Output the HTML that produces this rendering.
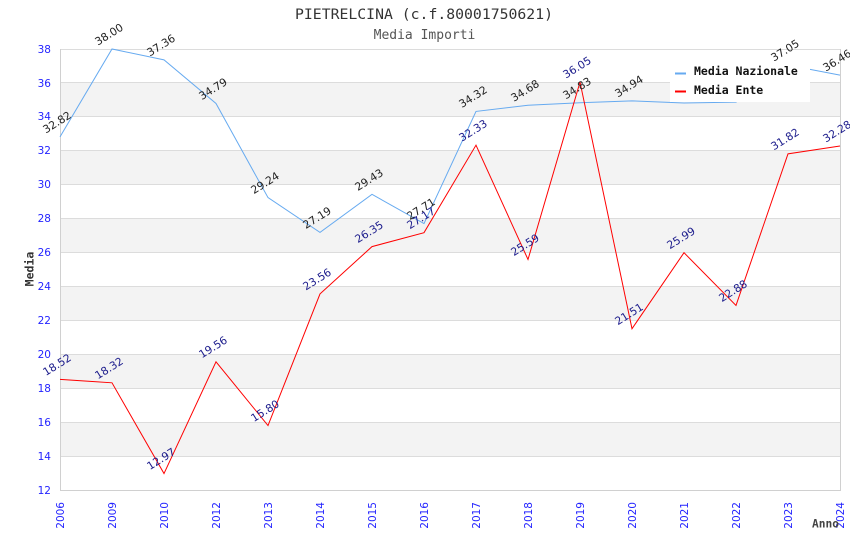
<!DOCTYPE html>
<html><head><meta charset="utf-8"><style>
html,body{margin:0;padding:0;background:#fff;}
svg{display:block;}
.tk{font-family:"DejaVu Sans","Liberation Sans",sans-serif;font-size:10.5px;fill:#2424ff;}
.dn{font-family:"DejaVu Sans","Liberation Sans",sans-serif;font-size:10.8px;fill:#222;}
.de{font-family:"DejaVu Sans","Liberation Sans",sans-serif;font-size:10.8px;fill:#1c1c8c;}
.mono{font-family:"DejaVu Sans Mono","Liberation Mono",monospace;}
</style></head><body>
<svg width="850" height="550" viewBox="0 0 850 550" xmlns="http://www.w3.org/2000/svg">
<rect width="850" height="550" fill="#fff"/>
<!-- bands -->
<g fill="#f3f3f3">
<rect x="61" y="422.15" width="779" height="33.93"/>
<rect x="61" y="354.31" width="779" height="33.92"/>
<rect x="61" y="286.46" width="779" height="33.92"/>
<rect x="61" y="218.62" width="779" height="33.92"/>
<rect x="61" y="150.77" width="779" height="33.92"/>
<rect x="61" y="82.92" width="779" height="33.93"/>
</g>
<!-- grid -->
<g stroke="#dcdcdc" stroke-width="1">
<line x1="61" x2="840" y1="456.5" y2="456.5"/>
<line x1="61" x2="840" y1="422.5" y2="422.5"/>
<line x1="61" x2="840" y1="388.5" y2="388.5"/>
<line x1="61" x2="840" y1="354.5" y2="354.5"/>
<line x1="61" x2="840" y1="320.5" y2="320.5"/>
<line x1="61" x2="840" y1="286.5" y2="286.5"/>
<line x1="61" x2="840" y1="252.5" y2="252.5"/>
<line x1="61" x2="840" y1="218.5" y2="218.5"/>
<line x1="61" x2="840" y1="184.5" y2="184.5"/>
<line x1="61" x2="840" y1="150.5" y2="150.5"/>
<line x1="61" x2="840" y1="116.5" y2="116.5"/>
<line x1="61" x2="840" y1="82.5" y2="82.5"/>
<line x1="61" x2="840" y1="49.5" y2="49.5"/>
</g>
<g stroke="#d0d0d0" stroke-width="1">
<line x1="60.5" x2="60.5" y1="49" y2="491"/>
<line x1="840.5" x2="840.5" y1="49" y2="491"/>
<line x1="60" x2="841" y1="490.5" y2="490.5"/>
</g>
<!-- y ticks -->
<g class="tk" text-anchor="end">
<text x="51" y="494">12</text>
<text x="51" y="460">14</text>
<text x="51" y="426">16</text>
<text x="51" y="392">18</text>
<text x="51" y="358">20</text>
<text x="51" y="324">22</text>
<text x="51" y="290">24</text>
<text x="51" y="256">26</text>
<text x="51" y="222">28</text>
<text x="51" y="188">30</text>
<text x="51" y="154">32</text>
<text x="51" y="120">34</text>
<text x="51" y="87">36</text>
<text x="51" y="53">38</text>
</g>
<!-- x ticks -->
<g class="tk" text-anchor="end">
<text transform="translate(64,502) rotate(-90)">2006</text>
<text transform="translate(116,502) rotate(-90)">2009</text>
<text transform="translate(168,502) rotate(-90)">2010</text>
<text transform="translate(220,502) rotate(-90)">2012</text>
<text transform="translate(272,502) rotate(-90)">2013</text>
<text transform="translate(324,502) rotate(-90)">2014</text>
<text transform="translate(376,502) rotate(-90)">2015</text>
<text transform="translate(428,502) rotate(-90)">2016</text>
<text transform="translate(480,502) rotate(-90)">2017</text>
<text transform="translate(532,502) rotate(-90)">2018</text>
<text transform="translate(584,502) rotate(-90)">2019</text>
<text transform="translate(636,502) rotate(-90)">2020</text>
<text transform="translate(688,502) rotate(-90)">2021</text>
<text transform="translate(740,502) rotate(-90)">2022</text>
<text transform="translate(792,502) rotate(-90)">2023</text>
<text transform="translate(844,502) rotate(-90)">2024</text>
</g>
<!-- titles -->
<text class="mono" x="424" y="19" text-anchor="middle" font-size="14" fill="#333" textLength="258" lengthAdjust="spacingAndGlyphs">PIETRELCINA (c.f.80001750621)</text>
<text class="mono" x="424.5" y="39" text-anchor="middle" font-size="13" fill="#555">Media Importi</text>
<text class="mono" transform="translate(33.5,269) rotate(-90)" text-anchor="middle" font-size="11.5" font-weight="bold" fill="#333">Media</text>
<text class="mono" x="812" y="527.5" font-size="11.2" font-weight="bold" fill="#444">Anno</text>
<!-- series -->
<polyline fill="none" stroke="#66aaf0" stroke-width="1" points="60,136.86 112,49 164,59.86 216,103.45 268,197.58 320,232.36 372,194.36 424,223.54 476,111.42 528,105.31 580,102.77 632,100.9 684,102.94 736,102.09 788,65.11 840,75.12"/>
<polyline fill="none" stroke="#ff0000" stroke-width="1" points="60,379.41 112,382.8 164,473.55 216,361.77 268,425.55 320,293.92 372,246.6 424,232.69 476,145.17 528,259.49 580,82.08 632,328.7 684,252.71 736,305.46 788,153.82 840,146.02"/>
<!-- labels nazionale -->
<g class="dn" text-anchor="middle">
<text transform="translate(59,125.4) rotate(-32)">32.82</text>
<text transform="translate(111,37.5) rotate(-32)">38.00</text>
<text transform="translate(163,48.4) rotate(-32)">37.36</text>
<text transform="translate(215,92) rotate(-32)">34.79</text>
<text transform="translate(267,186.1) rotate(-32)">29.24</text>
<text transform="translate(319,220.9) rotate(-32)">27.19</text>
<text transform="translate(371,182.9) rotate(-32)">29.43</text>
<text transform="translate(423,212) rotate(-32)">27.71</text>
<text transform="translate(475,99.9) rotate(-32)">34.32</text>
<text transform="translate(527,93.8) rotate(-32)">34.68</text>
<text transform="translate(579,91.3) rotate(-32)">34.83</text>
<text transform="translate(631,89.4) rotate(-32)">34.94</text>
<text transform="translate(787,53.6) rotate(-32)">37.05</text>
<text transform="translate(839,63.6) rotate(-32)">36.46</text>
</g>
<!-- labels ente -->
<g class="de" text-anchor="middle">
<text transform="translate(59,367.9) rotate(-32)">18.52</text>
<text transform="translate(111,371.3) rotate(-32)">18.32</text>
<text transform="translate(163,462) rotate(-32)">12.97</text>
<text transform="translate(215,350.3) rotate(-32)">19.56</text>
<text transform="translate(267,414) rotate(-32)">15.80</text>
<text transform="translate(319,282.4) rotate(-32)">23.56</text>
<text transform="translate(371,235.1) rotate(-32)">26.35</text>
<text transform="translate(423,221.2) rotate(-32)">27.17</text>
<text transform="translate(475,133.7) rotate(-32)">32.33</text>
<text transform="translate(527,248) rotate(-32)">25.59</text>
<text transform="translate(579,70.6) rotate(-32)">36.05</text>
<text transform="translate(631,317.2) rotate(-32)">21.51</text>
<text transform="translate(683,241.2) rotate(-32)">25.99</text>
<text transform="translate(735,294) rotate(-32)">22.88</text>
<text transform="translate(787,142.3) rotate(-32)">31.82</text>
<text transform="translate(839,134.5) rotate(-32)">32.28</text>
</g>
<!-- legend -->
<rect x="670" y="61" width="140" height="41" fill="#fff"/>
<line x1="675" x2="686" y1="73.5" y2="73.5" stroke="#66aaf0" stroke-width="2"/>
<line x1="675" x2="686" y1="91.5" y2="91.5" stroke="#ff0000" stroke-width="2"/>
<text class="mono" x="694" y="75" font-size="11.5" font-weight="bold" fill="#111">Media Nazionale</text>
<text class="mono" x="694" y="94" font-size="11.5" font-weight="bold" fill="#111">Media Ente</text>
</svg>
</body></html>
